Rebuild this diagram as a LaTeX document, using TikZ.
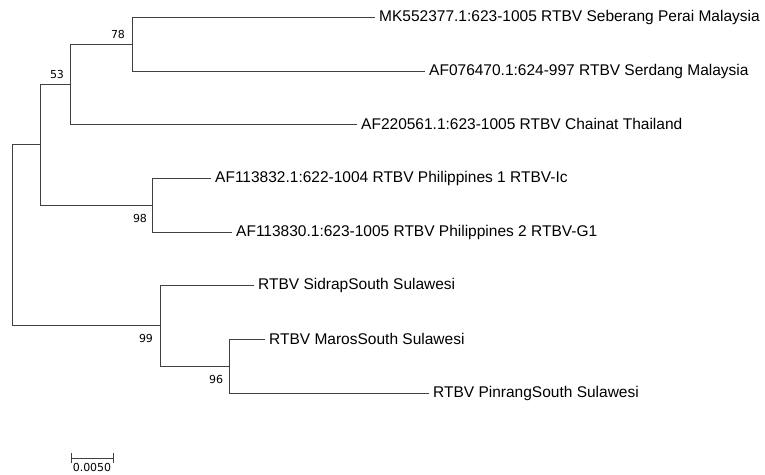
\documentclass[tikz,border=0pt]{standalone}
\usepackage{fontspec}
\setmainfont{Liberation Sans}
\newfontfamily\bootfont{DejaVu Sans}
\begin{document}
\begin{tikzpicture}[x=1pt,y=-1pt,
  branch/.style={draw=black!75, line width=0.8pt},
  leaf/.style={anchor=west, inner sep=4pt, font=\fontsize{15.5}{18}\selectfont},
  boot/.style={inner sep=0pt, font=\bootfont\fontsize{11}{13}\selectfont}]
\useasboundingbox (0,0) rectangle (765,474);
% internal nodes
\coordinate (root) at (12,234);
\coordinate (nA) at (40,144);
\coordinate (nB) at (70,84);
\coordinate (nC) at (132,44);
\coordinate (nD) at (152,205);
\coordinate (nE) at (160,325);
\coordinate (nF) at (229,366);
% leaves
\node[leaf] (l1) at (375,17) {MK552377.1:623-1005 RTBV Seberang Perai Malaysia};
\node[leaf] (l2) at (425,71) {AF076470.1:624-997 RTBV Serdang Malaysia};
\node[leaf] (l3) at (357,124) {AF220561.1:623-1005 RTBV Chainat Thailand};
\node[leaf] (l4) at (211,178) {AF113832.1:622-1004 RTBV Philippines 1 RTBV-Ic};
\node[leaf] (l5) at (232,232) {AF113830.1:623-1005 RTBV Philippines 2 RTBV-G1};
\node[leaf] (l6) at (254,285) {RTBV SidrapSouth Sulawesi};
\node[leaf] (l7) at (265,339) {RTBV MarosSouth Sulawesi};
\node[leaf] (l8) at (429,393) {RTBV PinrangSouth Sulawesi};
% branches
\draw[branch] (root) |- (nA);
\draw[branch] (root) |- (nE);
\draw[branch] (nA) |- (nB);
\draw[branch] (nA) |- (nD);
\draw[branch] (nB) |- (nC);
\draw[branch] (nB) |- (l3.west);
\draw[branch] (nC) |- (l1.west);
\draw[branch] (nC) |- (l2.west);
\draw[branch] (nD) |- (l4.west);
\draw[branch] (nD) |- (l5.west);
\draw[branch] (nE) |- (l6.west);
\draw[branch] (nE) |- (nF);
\draw[branch] (nF) |- (l7.west);
\draw[branch] (nF) |- (l8.west);
% bootstrap values
\node[boot] (b78) at (118,34) {78};
\node[boot] (b53) at (57,74) {53};
\node[boot] (b98) at (140,218) {98};
\node[boot] (b99) at (146,338) {99};
\node[boot] (b96) at (216,379) {96};
% scale bar
\coordinate (s1) at (71,458);
\coordinate (s2) at (113,458);
\draw[branch] (s1) -- (s2);
\draw[branch] ([yshift=-5]s1) -- ([yshift=5]s1);
\draw[branch] ([yshift=-5]s2) -- ([yshift=5]s2);
\node[boot, anchor=north] (slabel) at (92,463.5) {0.0050};
\end{tikzpicture}
\end{document}
